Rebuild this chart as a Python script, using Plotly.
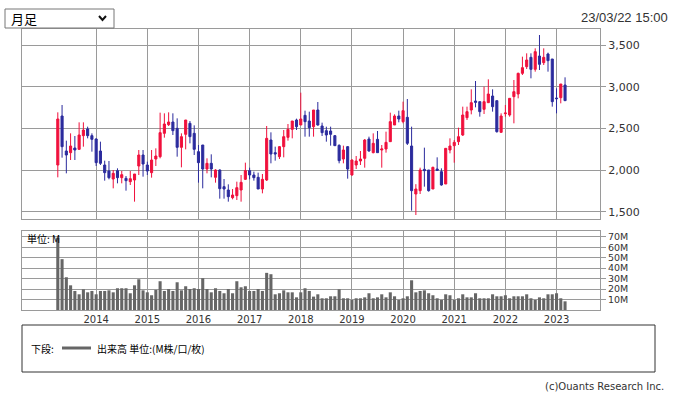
import plotly.graph_objects as go

W, H = 675, 396

months = [f"{y}-{m:02d}" for y in range(2013, 2024) for m in range(1, 13)]
months = months[3:3 + 120]  # 2013-04 .. 2023-03

opens = [2060, 2648, 2228, 2208, 2264, 2248, 2412, 2492, 2412, 2372,
         2228, 2060, 1988, 1892, 1992, 1908, 1900, 1860, 1880, 2048,
         2180, 2060, 1968, 2132, 2160, 2440, 2544, 2576, 2500, 2272,
         2428, 2560, 2440, 2220, 2300, 2012, 2080, 1912, 2000, 1800,
         1760, 1668, 1692, 1760, 1888, 1992, 1940, 1912, 1772, 1880,
         2360, 2208, 2160, 2280, 2392, 2488, 2600, 2540, 2656, 2588,
         2520, 2720, 2528, 2472, 2468, 2412, 2296, 2132, 2280, 1940,
         2060, 2108, 2140, 2372, 2208, 2368, 2240, 2252, 2340, 2540,
         2648, 2580, 2632, 2288, 1712, 1752, 2008, 2000, 1772, 2012,
         1980, 1832, 2240, 2292, 2340, 2420, 2628, 2720, 2828, 2820,
         2728, 2808, 2888, 2832, 2452, 2676, 2660, 2880, 2912, 3160,
         3240, 3352, 3208, 3368, 3288, 3392, 3332, 2864, 2868, 3020]
highs = [2692, 2780, 2352, 2440, 2408, 2572, 2572, 2520, 2440, 2380,
         2340, 2112, 2108, 2000, 2020, 1988, 1928, 1988, 1952, 2240,
         2240, 2100, 2240, 2260, 2688, 2680, 2692, 2680, 2620, 2440,
         2600, 2588, 2536, 2300, 2300, 2140, 2188, 2008, 2008, 1892,
         1828, 1772, 1860, 1940, 2088, 2028, 1980, 1968, 1952, 2528,
         2452, 2280, 2288, 2480, 2552, 2588, 2616, 2928, 2712, 2700,
         2720, 2816, 2568, 2520, 2520, 2420, 2308, 2292, 2288, 2128,
         2168, 2228, 2372, 2400, 2440, 2468, 2300, 2460, 2688, 2668,
         2712, 2820, 2852, 2520, 1830, 2028, 2268, 2000, 2040, 2152,
         2020, 2260, 2380, 2360, 2508, 2760, 2760, 2968, 3068, 2820,
         3000, 3088, 2968, 2832, 2680, 2780, 2860, 3080, 3168, 3360,
         3400, 3400, 3460, 3620, 3460, 3408, 3332, 2980, 3032, 3112]
lows = [1912, 2148, 1960, 2120, 2120, 2240, 2280, 2380, 2220, 2048,
        2060, 1872, 1888, 1780, 1840, 1840, 1752, 1820, 1620, 1940,
        1920, 1940, 1908, 2048, 2140, 2388, 2528, 2420, 2160, 2032,
        2248, 2320, 2180, 1848, 1780, 1960, 1912, 1848, 1656, 1656,
        1620, 1648, 1640, 1620, 1880, 1888, 1872, 1772, 1720, 1868,
        2080, 2112, 2132, 2152, 2352, 2380, 2480, 2540, 2400, 2400,
        2400, 2532, 2408, 2340, 2292, 2292, 2080, 2080, 1896, 1932,
        2012, 2060, 2028, 2220, 2200, 2208, 2028, 2208, 2340, 2540,
        2572, 2560, 2300, 1512, 1460, 1712, 1800, 1740, 1772, 1992,
        1812, 1832, 2200, 2088, 2300, 2408, 2600, 2668, 2752, 2640,
        2672, 2808, 2700, 2448, 2452, 2640, 2640, 2560, 2860, 3140,
        3212, 3100, 3180, 3200, 3260, 3180, 2760, 2680, 2800, 2832]
closes = [2612, 2280, 2180, 2288, 2240, 2420, 2480, 2412, 2368, 2088,
          2080, 1968, 1908, 1960, 1908, 1944, 1872, 1896, 1952, 2180,
          2072, 1988, 2120, 2168, 2448, 2552, 2576, 2472, 2272, 2400,
          2600, 2400, 2248, 2088, 2012, 2080, 2012, 2000, 1776, 1772,
          1680, 1700, 1788, 1852, 1992, 1940, 1908, 1772, 1888, 2380,
          2192, 2192, 2280, 2400, 2488, 2588, 2520, 2612, 2580, 2508,
          2720, 2540, 2448, 2420, 2428, 2292, 2112, 2240, 2012, 2120,
          2108, 2132, 2360, 2228, 2320, 2208, 2252, 2332, 2580, 2648,
          2612, 2712, 2320, 1752, 1772, 2000, 1992, 1752, 2032, 1996,
          1820, 2260, 2288, 2332, 2400, 2660, 2700, 2808, 2812, 2700,
          2820, 2912, 2760, 2460, 2648, 2684, 2860, 2940, 3160, 3228,
          3320, 3208, 3420, 3268, 3352, 3312, 2820, 2856, 3032, 2832]
volumes = [69, 48.6, 31.3, 23.6, 18.2, 15.0, 19.8, 16.9, 18.2, 15.0,
           18.2, 18.2, 18.8, 16.9, 20.8, 20.8, 20.8, 16.0, 23.6, 29.4,
           18.8, 16.9, 14.1, 19.2, 27.5, 18.2, 20.1, 18.2, 26.5, 18.8,
           22.7, 20.1, 20.8, 20.1, 30.4, 20.1, 16.9, 20.8, 18.2, 16.0,
           20.1, 16.0, 27.5, 21.7, 22.7, 18.2, 18.2, 20.1, 18.2, 35.5,
           34.2, 15.0, 16.0, 18.8, 16.9, 16.9, 12.1, 16.9, 20.8, 18.2,
           12.8, 15.0, 11.2, 11.2, 13.1, 13.1, 19.8, 11.2, 11.2, 9.6,
           11.2, 11.2, 12.1, 16.0, 11.2, 12.1, 15.0, 12.1, 16.9, 13.1,
           9.6, 11.2, 13.1, 28.4, 16.9, 18.2, 18.8, 16.0, 14.1, 11.2,
           9.6, 15.0, 14.1, 9.6, 11.2, 15.0, 12.1, 12.1, 16.0, 11.2,
           11.2, 11.2, 15.0, 13.1, 13.1, 14.1, 11.2, 13.1, 13.1, 13.1,
           15.0, 11.2, 9.6, 12.1, 11.2, 15.0, 15.0, 16.0, 11.2, 8.3]

year_ticks = [m for m in months if m.endswith("-01")]
year_labels = [m[:4] for m in year_ticks]
price_ticks = [1500, 2000, 2500, 3000, 3500]
vol_ticks = [10, 20, 30, 40, 50, 60, 70]
vol_labels = [f"{v}M" for v in vol_ticks]

UP = "#f0103c"
DOWN = "#2b2b9d"
GRID = "#9a9a9a"
FONT = "DejaVu Sans"

def px(x):
    return x / W

def py(y):
    return 1 - y / H

fig = go.Figure()
fig.add_trace(go.Candlestick(
    x=months, open=opens, high=highs, low=lows, close=closes,
    increasing=dict(line=dict(color=UP, width=1), fillcolor=UP),
    decreasing=dict(line=dict(color=DOWN, width=1), fillcolor=DOWN),
    whiskerwidth=0, xaxis="x", yaxis="y", showlegend=False, hoverinfo="skip"))
fig.add_trace(go.Bar(
    x=months, y=volumes, marker=dict(color="#666666", line=dict(width=0)),
    xaxis="x2", yaxis="y2", showlegend=False, hoverinfo="skip"))

xdom = [px(22), px(600)]
xrange = [-8.4, 127.2]
axis_common = dict(showgrid=True, gridcolor=GRID, gridwidth=1, showline=True,
                   linecolor=GRID, linewidth=1, mirror=True, zeroline=False)

fig.update_layout(
    width=W, height=H, margin=dict(l=0, r=0, t=0, b=0),
    paper_bgcolor="white", plot_bgcolor="white",
    font=dict(family=FONT, size=11, color="#333333"),
    bargap=0.28,
    xaxis=dict(domain=xdom, anchor="y", type="category", categoryorder="array",
               categoryarray=months, range=xrange, tickvals=year_ticks,
               showticklabels=False, ticks="", rangeslider=dict(visible=False),
               **axis_common),
    yaxis=dict(domain=[py(219), py(29)], anchor="x", side="right",
               range=[1412, 3692], tickvals=price_ticks, tickformat=",",
               ticks="outside", ticklen=5, tickcolor=GRID,
               tickfont=dict(size=11, color="#333333"), **axis_common),
    xaxis2=dict(domain=xdom, anchor="y2", type="category", categoryorder="array",
                categoryarray=months, range=xrange, tickvals=year_ticks,
                ticktext=year_labels, ticks="",
                tickfont=dict(size=10, color="#333333"), **axis_common),
    yaxis2=dict(domain=[py(310), py(231)], anchor="x2", side="right",
                range=[0, 75.5], tickvals=vol_ticks, ticktext=vol_labels,
                ticks="outside", ticklen=5, tickcolor=GRID,
                tickfont=dict(size=9.5, color="#333333"), **axis_common),
)

shapes = [
    # dropdown box
    dict(type="rect", xref="paper", yref="paper", x0=px(5), x1=px(114),
         y0=py(28), y1=py(9), line=dict(color="#767676", width=1), fillcolor="white"),
    # chevron
    dict(type="path", xref="paper", yref="paper",
         path=f"M {px(99)} {py(16)} L {px(102.5)} {py(20)} L {px(106)} {py(16)}",
         line=dict(color="#111111", width=2)),
    # legend box
    dict(type="rect", xref="paper", yref="paper", x0=px(22), x1=px(655),
         y0=py(372), y1=py(325), line=dict(color="#333333", width=1)),
    # legend line
    dict(type="line", xref="paper", yref="paper", x0=px(62), x1=px(91),
         y0=py(348), y1=py(348), line=dict(color="#666666", width=3)),
]

annotations = [
    dict(text="月足", x=px(9), y=py(18.5), xanchor="left", yanchor="middle",
         font=dict(family="Noto Sans CJK JP", size=13, color="#000000")),
    dict(text="23/03/22 15:00", x=px(670), y=py(18), xanchor="right", yanchor="middle",
         font=dict(family="Liberation Sans", size=13, color="#333333")),
    dict(text="単位: M", x=px(25), y=py(238), xanchor="left", yanchor="middle",
         font=dict(family="Noto Sans CJK JP", size=10, color="#000000")),
    dict(text="下段:", x=px(29), y=py(348), xanchor="left", yanchor="middle",
         font=dict(family="Noto Sans CJK JP", size=10, color="#000000")),
    dict(text="出来高 単位:(M株/口/枚)", x=px(95), y=py(348), xanchor="left", yanchor="middle",
         font=dict(family="Noto Sans CJK JP", size=10, color="#000000")),
    dict(text="(c)Ouants Research Inc.", x=px(666), y=py(386), xanchor="right", yanchor="middle",
         font=dict(family="DejaVu Sans", size=10, color="#333333")),
]
for a in annotations:
    a.update(xref="paper", yref="paper", showarrow=False)

fig.update_layout(shapes=shapes, annotations=annotations)
fig.write_html("out.html")
